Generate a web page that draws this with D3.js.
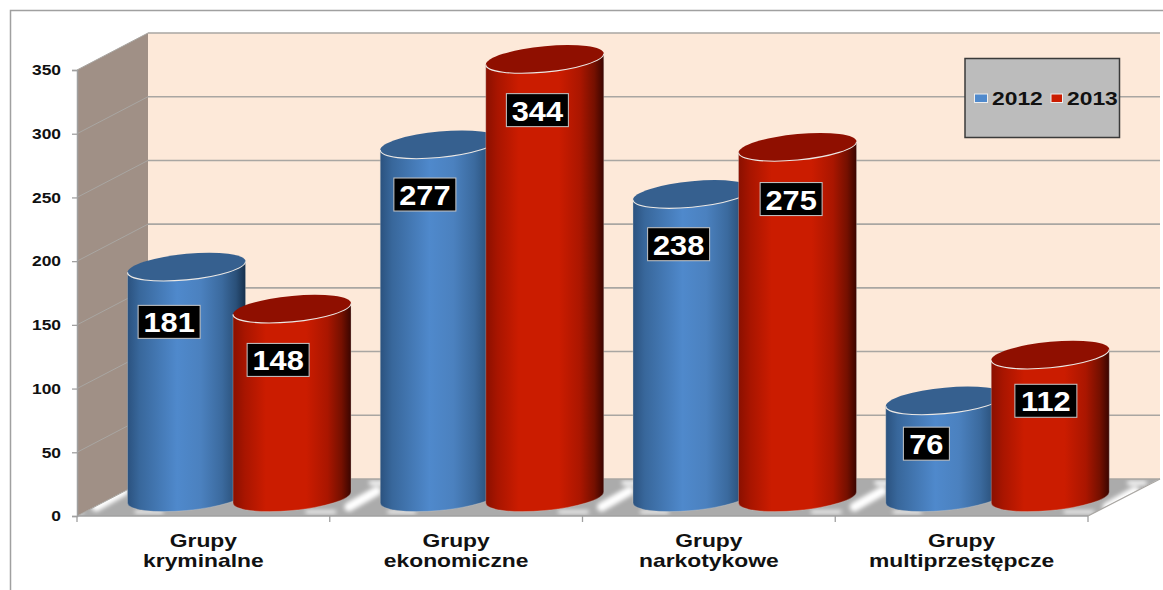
<!DOCTYPE html>
<html><head><meta charset="utf-8">
<script src="https://cdn.jsdelivr.net/npm/d3@7"></script>
<style>html,body{margin:0;padding:0;background:#fff}svg{display:block}text{font-family:"Liberation Sans",Arial,sans-serif;font-weight:bold}</style>
</head><body><svg id="c" width="1163" height="590"></svg>
<script>
const categories = [["Grupy","kryminalne"],["Grupy","ekonomiczne"],["Grupy","narkotykowe"],["Grupy","multiprzestępcze"]];
const seriesNames = ["2012","2013"];
const values2012 = [181,277,238,76];
const values2013 = [148,344,275,112];
const yTicks = [0,50,100,150,200,250,300,350];

const labelDx = [[-17,-13.5],[-14,-7],[-13,-6],[-18,-4]];
const labelDy = [[55,51],[50,51],[50,52],[43,46]];

const svg = d3.select("#c");
const F = {x0:77,x1:1088,y0:516,y1:70}, depth = {x:71,y:-37};
const yFront = d3.scaleLinear().domain([0,350]).range([F.y0,F.y1]);
const yMid = v => yFront(v)+depth.y/2;
const idx = d3.range(categories.length);
const x0 = d3.scaleBand().domain(idx).range([F.x0,F.x1]);
const xInner = d3.scaleBand().domain(seriesNames).range([-105.5,105.5]);
const GRID="#a9a6a2";

const defs = svg.append("defs");
function grad(id,stops){const g=defs.append("linearGradient").attr("id",id);
  stops.forEach(([o,c])=>g.append("stop").attr("offset",o).attr("stop-color",c));}
grad("g2012",[[0,"#2b527f"],[.1,"#38679b"],[.42,"#4f89cc"],[.62,"#4b81bf"],[.8,"#3b6a9e"],[.92,"#2a5079"],[1,"#16304c"]]);
grad("g2013",[[0,"#8a1000"],[.1,"#a81500"],[.28,"#cb1c00"],[.62,"#cb1c00"],[.8,"#aa1600"],[.92,"#751000"],[1,"#3a0500"]]);
const blur=defs.append("filter").attr("id","floorBlur").attr("x","-30%").attr("y","-30%").attr("width","160%").attr("height","160%");
blur.append("feGaussianBlur").attr("stdDeviation",2.2);

// frame
svg.append("path").attr("d","M10.5,590V10.5H1163").attr("fill","none").attr("stroke","#a0a0a0").attr("stroke-width",1.5);

// walls
const pts = a => a.map(p=>p.join(",")).join(" ");
const floorCorners = [[F.x0,F.y0],[F.x1,F.y0],[F.x1+depth.x,F.y0+depth.y],[F.x0+depth.x,F.y0+depth.y]];
svg.append("polygon").attr("points",pts([[F.x0,F.y1],[F.x0+depth.x,F.y1+depth.y],[F.x0+depth.x,F.y0+depth.y],[F.x0,F.y0]])).attr("fill","#a09086");
svg.append("polygon").attr("points",pts([[F.x0+depth.x,F.y1+depth.y],[F.x1+depth.x+1,F.y1+depth.y],[F.x1+depth.x+1,F.y0+depth.y],[F.x0+depth.x,F.y0+depth.y]])).attr("fill","#fde9d9");
svg.append("polygon").attr("points",pts(floorCorners)).attr("fill","#ababab");
defs.append("clipPath").attr("id","floorClip").append("polygon").attr("points",pts(floorCorners));
const streaks=svg.append("g").attr("clip-path","url(#floorClip)").append("g").attr("filter","url(#floorBlur)")
  .attr("stroke","#fff").attr("stroke-linecap","round");
d3.range(-1,4).forEach(k=>{
  const gc=F.x0+x0.step()*(k+1)+35; // centre of the floor gap between two groups
  [[-16,507,12,491,9],[6,483,22,483,4],[-58,512,-30,512,3],[24,512,50,512,3]].forEach(([a,b,c,d,w])=>{
    streaks.append("line").attr("x1",gc+a).attr("y1",b).attr("x2",gc+c).attr("y2",d).attr("stroke-width",w);
  });
});

// gridlines
yTicks.forEach(t=>{
  const y=yFront(t);
  svg.append("line").attr("x1",F.x0).attr("y1",y).attr("x2",F.x0+depth.x).attr("y2",y+depth.y).attr("stroke",GRID).attr("stroke-width",1);
  svg.append("line").attr("x1",F.x0+depth.x).attr("y1",y+depth.y).attr("x2",F.x1+depth.x+1).attr("y2",y+depth.y).attr("stroke",GRID).attr("stroke-width",1.6);
});
svg.append("line").attr("x1",F.x1).attr("y1",F.y0).attr("x2",F.x1+depth.x+1).attr("y2",F.y0+depth.y).attr("stroke",GRID).attr("stroke-width",1.2);

// y axis
const SXT=1.16;
const yAxis = svg.append("g").attr("transform",`translate(${F.x0},0)`)
  .call(d3.axisLeft(yFront).tickValues(yTicks).tickSize(5).tickPadding(10));
yAxis.select(".domain").attr("stroke","#a0a0a0").attr("stroke-width",1.5);
yAxis.selectAll("line").attr("stroke","#a0a0a0").attr("stroke-width",1.3);
yAxis.selectAll("text").attr("fill","#111").attr("font-size",15).attr("font-family",'"Liberation Sans",Arial,sans-serif').attr("font-weight","bold")
  .attr("x",-16/SXT).attr("transform",`scale(${SXT},1)`);

// x axis
svg.append("line").attr("x1",F.x0).attr("x2",F.x1).attr("y1",F.y0).attr("y2",F.y0).attr("stroke","#a0a0a0").attr("stroke-width",1.5);
d3.range(categories.length+1).forEach(i=>{
  const x=F.x0+i*x0.step();
  svg.append("line").attr("x1",x).attr("x2",x).attr("y1",F.y0).attr("y2",F.y0+6).attr("stroke","#a0a0a0").attr("stroke-width",1.3);
});
const SXC=1.27;
categories.forEach((c,i)=>{
  const t=svg.append("text").attr("text-anchor","middle").attr("fill","#111").attr("font-size",18)
    .attr("transform",`translate(${x0(i)+x0.bandwidth()/2},0) scale(${SXC},1)`);
  c.forEach((s,j)=>t.append("tspan").attr("x",0).attr("y",547.5+j*19.5).text(s));
});

// cylinders
const RX=59, RY=13, SK=-0.093;
const series=[values2012,values2013];
const topFill=["#36608f","#8f0f00"];
idx.forEach(i=>{
  seriesNames.forEach((n,s)=>{
    const v=series[s][i], cx=x0(i)+x0.bandwidth()/2+depth.x/2+xInner(n)+xInner.bandwidth()/2+0.4;
    const y0=yMid(0), yt=yMid(v)-y0;
    const g=svg.append("g").attr("transform",`matrix(1,${SK},0,1,${cx},${y0})`);
    g.append("path").attr("d",`M${-RX},${yt}L${-RX},0A${RX},${RY} 0 0 0 ${RX},0L${RX},${yt}Z`)
      .attr("fill",`url(#g${n})`).attr("stroke","#d8d4d0").attr("stroke-width",0.5).attr("stroke-opacity",.6);
    g.append("ellipse").attr("cx",0).attr("cy",yt).attr("rx",RX).attr("ry",RY).attr("fill",topFill[s]);
    g.append("path").attr("d",`M${-RX},${yt}A${RX},${RY} 0 0 0 ${RX},${yt}`).attr("fill","none").attr("stroke","#ece8e4").attr("stroke-width",1.1);
  });
});

// value labels (drawn after every cylinder)
const SXV=1.08;
idx.forEach(i=>{
  seriesNames.forEach((n,s)=>{
    const v=series[s][i], cx=x0(i)+x0.bandwidth()/2+depth.x/2+xInner(n)+xInner.bandwidth()/2;
    const lx=cx+labelDx[i][s], ly=yMid(v)+labelDy[i][s];
    const w=String(v).length===3?62:46;
    svg.append("rect").attr("x",lx-w/2).attr("y",ly-16.5).attr("width",w).attr("height",33).attr("fill","#000").attr("stroke","#c8c8c8").attr("stroke-width",1);
    svg.append("text").attr("text-anchor","middle").attr("fill","#fff").attr("font-size",28.5)
      .attr("transform",`translate(${lx},${ly+10.5}) scale(${SXV},1)`).text(v);
  });
});

// legend
const lg=svg.append("g");
lg.append("rect").attr("x",965).attr("y",58.5).attr("width",154.5).attr("height",79).attr("fill","#bcbcbc").attr("stroke","#3a3a3a").attr("stroke-width",1.5);
const lgFill=["#4f89cc","#cb1c00"], lgSw=[974.5,1051], lgTx=[992,1067];
seriesNames.forEach((n,s)=>{
  lg.append("rect").attr("x",lgSw[s]).attr("y",94).attr("width",s?11.5:13).attr("height",8.5).attr("fill",lgFill[s]).attr("stroke","#eee").attr("stroke-width",1);
  lg.append("text").attr("fill","#111").attr("font-size",18).attr("transform",`translate(${lgTx[s]},105) scale(1.27,1)`).text(n);
});
</script></body></html>
